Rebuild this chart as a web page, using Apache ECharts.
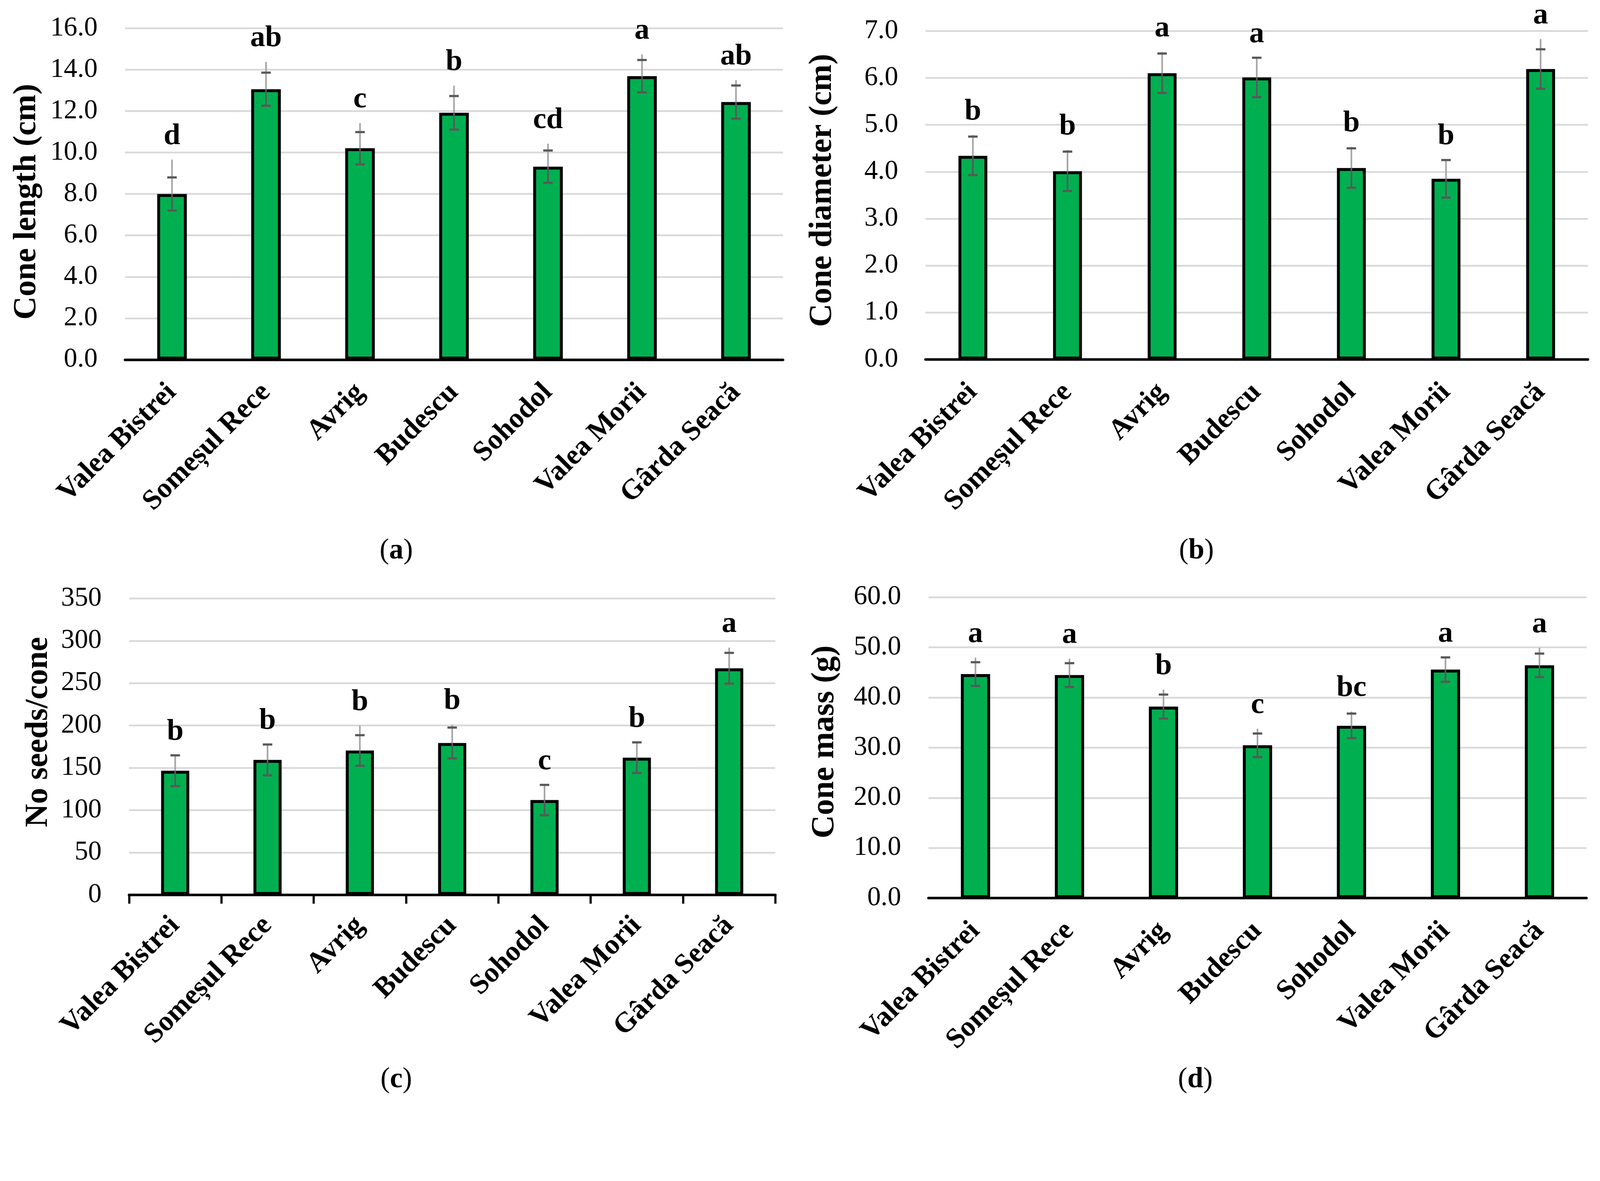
<!DOCTYPE html>
<html>
<head>
<meta charset="utf-8">
<script src="https://cdn.jsdelivr.net/npm/echarts@6/dist/echarts.min.js"></script>
<style>
  html, body { margin: 0; padding: 0; background: #ffffff; overflow: hidden; }
  #chart { width: 100vw; height: 100vh; }
</style>
</head>
<body>
<div id="chart"></div>
<script>
// ---------- data ----------
const categories = ['Valea Bistrei', 'Someșul Rece', 'Avrig', 'Budescu', 'Sohodol', 'Valea Morii', 'Gârda Seacă'];

// (a) Cone length (cm)
const lengthMean = [8.0, 13.06, 10.21, 11.92, 9.32, 13.69, 12.44];
const lengthErr = [0.80, 0.80, 0.78, 0.81, 0.78, 0.78, 0.80];
const lengthExt = [9.66, 14.38, 11.42, 13.23, 10.43, 14.74, 13.50];
const lengthLetters = ['d', 'ab', 'c', 'b', 'cd', 'a', 'ab'];
const lengthTicks = [0, 2, 4, 6, 8, 10, 12, 14, 16];

// (b) Cone diameter (cm)
const diameterMean = [4.34, 4.01, 6.10, 6.01, 4.08, 3.85, 6.19];
const diameterErr = [0.41, 0.42, 0.42, 0.42, 0.42, 0.40, 0.42];
const diameterExt = [4.78, 4.46, 6.55, 6.43, 4.53, 4.26, 6.83];
const diameterLetters = ['b', 'b', 'a', 'a', 'b', 'b', 'a'];
const diameterTicks = [0, 1, 2, 3, 4, 5, 6, 7];

// (c) No seeds/cone
const seedsMean = [146.6, 159.4, 170.5, 179.4, 112.0, 162.0, 267.6];
const seedsErr = [18.2, 18.2, 18.1, 18.2, 17.9, 18.1, 18.2];
const seedsExt = [165.0, 177.7, 199.9, 201.0, 129.9, 180.1, 292.0];
const seedsLetters = ['b', 'b', 'b', 'b', 'c', 'b', 'a'];
const seedsTicks = [0, 50, 100, 150, 200, 250, 300, 350];

// (d) Cone mass (g)
const massMean = [44.67, 44.47, 38.19, 30.47, 34.34, 45.56, 46.41];
const massErr = [2.36, 2.37, 2.39, 2.35, 2.45, 2.43, 2.34];
const massExt = [47.95, 47.74, 41.57, 33.77, 37.18, 47.98, 49.90];
const massLetters = ['a', 'a', 'b', 'c', 'bc', 'a', 'a'];
const massTicks = [0, 10, 20, 30, 40, 50, 60];

const yTitles = ['Cone length (cm)', 'Cone diameter (cm)', 'No seeds/cone', 'Cone mass (g)'];
const panelTags = ['a', 'b', 'c', 'd'];

// ---------- layout / style (designed for a 4377 x 3024 canvas, scaled to the viewport) ----------
const el = document.getElementById('chart');
const S = Math.min(el.clientWidth / 4377, el.clientHeight / 3024);
function s(v) { return v * S; }

const FONT = 'Liberation Serif';
const GREEN = '#00b050';
const gridBoxes = [
  [342, 77.5, 1800, 906.5],
  [2532, 84.8, 1812, 898.8],
  [353, 1637.6, 1768, 811],
  [2540, 1633.9, 1800, 823.6]
];
const barWidths = [81, 79, 77, 80];
const decimals = [1, 1, 0, 1];
const labelMargins = [78, 78, 72, 78];
const titlePos = [[73, 552], [2250, 521], [105, 2003], [2257, 2030]];
const tagPos = [[1084, 1508], [3273, 1508], [1084, 2955], [3270, 2955]];

const panels = [
  { mean: lengthMean, err: lengthErr, ext: lengthExt, letters: lengthLetters, ticks: lengthTicks },
  { mean: diameterMean, err: diameterErr, ext: diameterExt, letters: diameterLetters, ticks: diameterTicks },
  { mean: seedsMean, err: seedsErr, ext: seedsExt, letters: seedsLetters, ticks: seedsTicks },
  { mean: massMean, err: massErr, ext: massExt, letters: massLetters, ticks: massTicks }
];

const grids = [], xAxes = [], yAxes = [], series = [], graphics = [];

panels.forEach(function (p, k) {
  const g = gridBoxes[k];
  grids.push({ left: s(g[0]), top: s(g[1]), width: s(g[2]), height: s(g[3]) });
  xAxes.push({
    type: 'category',
    gridIndex: k,
    data: categories,
    boundaryGap: true,
    axisLine: { show: true, lineStyle: { color: '#000000', width: s(7) } },
    axisTick: k === 2
      ? { show: true, interval: 0, length: s(24), lineStyle: { color: '#000000', width: s(6) } }
      : { show: false },
    axisLabel: {
      interval: 0,
      rotate: 45,
      margin: s(labelMargins[k]),
      color: '#000000',
      fontFamily: FONT,
      fontWeight: 'bold',
      fontSize: s(78)
    },
    splitLine: { show: false }
  });
  const t = p.ticks;
  yAxes.push({
    type: 'value',
    gridIndex: k,
    min: t[0],
    max: t[t.length - 1],
    interval: t[1] - t[0],
    axisLine: { show: false },
    axisTick: { show: false },
    axisLabel: {
      margin: s(75),
      color: '#000000',
      fontFamily: FONT,
      fontSize: s(74),
      formatter: function (v) { return v.toFixed(decimals[k]); }
    },
    splitLine: { show: true, lineStyle: { color: '#d9d9d9', width: s(5) } }
  });
  series.push({
    type: 'bar',
    xAxisIndex: k,
    yAxisIndex: k,
    data: p.mean,
    barWidth: s(barWidths[k]),
    itemStyle: { color: GREEN, borderColor: '#000000', borderWidth: s(8) },
    z: 2
  });
  const errData = p.mean.map(function (m, i) { return [i, m, p.err[i], p.ext[i]]; });
  series.push({
    type: 'custom',
    xAxisIndex: k,
    yAxisIndex: k,
    data: errData,
    clip: false,
    z: 5,
    renderItem: function (params, api) {
      const i = api.value(0), m = api.value(1), e = api.value(2), ex = api.value(3);
      const pm = api.coord([i, m]);
      const ph = api.coord([i, m + e]);
      const pl = api.coord([i, m - e]);
      const pe = api.coord([i, Math.max(ex, m + e)]);
      const x = pm[0];
      const cap = s(13);
      return {
        type: 'group',
        children: [
          { type: 'line', shape: { x1: x, y1: pm[1], x2: x, y2: pe[1] }, style: { stroke: '#a6a6a6', lineWidth: s(4.5) } },
          { type: 'line', shape: { x1: x, y1: pl[1], x2: x, y2: pm[1] }, style: { stroke: '#595959', lineWidth: s(4.5) } },
          { type: 'line', shape: { x1: x - cap, y1: ph[1], x2: x + cap, y2: ph[1] }, style: { stroke: '#595959', lineWidth: s(6) } },
          { type: 'line', shape: { x1: x - cap, y1: pl[1], x2: x + cap, y2: pl[1] }, style: { stroke: '#595959', lineWidth: s(6) } },
          {
            type: 'text',
            style: {
              text: p.letters[params.dataIndex],
              x: x,
              y: pe[1] - s(64),
              textAlign: 'center',
              textVerticalAlign: 'middle',
              fill: '#000000',
              fontFamily: FONT,
              fontWeight: 'bold',
              fontSize: s(82)
            }
          }
        ]
      };
    }
  });
  graphics.push({
    type: 'text',
    x: s(titlePos[k][0]),
    y: s(titlePos[k][1]),
    rotation: Math.PI / 2,
    style: {
      text: yTitles[k],
      textAlign: 'center',
      textVerticalAlign: 'middle',
      fill: '#000000',
      fontFamily: FONT,
      fontWeight: 'bold',
      fontSize: s(88)
    }
  });
  graphics.push({
    type: 'text',
    x: s(tagPos[k][0]),
    y: s(tagPos[k][1]),
    style: {
      text: '({b|' + panelTags[k] + '})',
      textAlign: 'center',
      textVerticalAlign: 'middle',
      fill: '#000000',
      fontFamily: FONT,
      fontSize: s(78),
      rich: { b: { fontFamily: FONT, fontWeight: 'bold', fontSize: s(78), fill: '#000000' } }
    }
  });
});

const chart = echarts.init(el, null, { renderer: 'canvas' });
chart.setOption({
  backgroundColor: '#ffffff',
  animation: false,
  grid: grids,
  xAxis: xAxes,
  yAxis: yAxes,
  series: series,
  graphic: graphics
});
</script>
</body>
</html>
